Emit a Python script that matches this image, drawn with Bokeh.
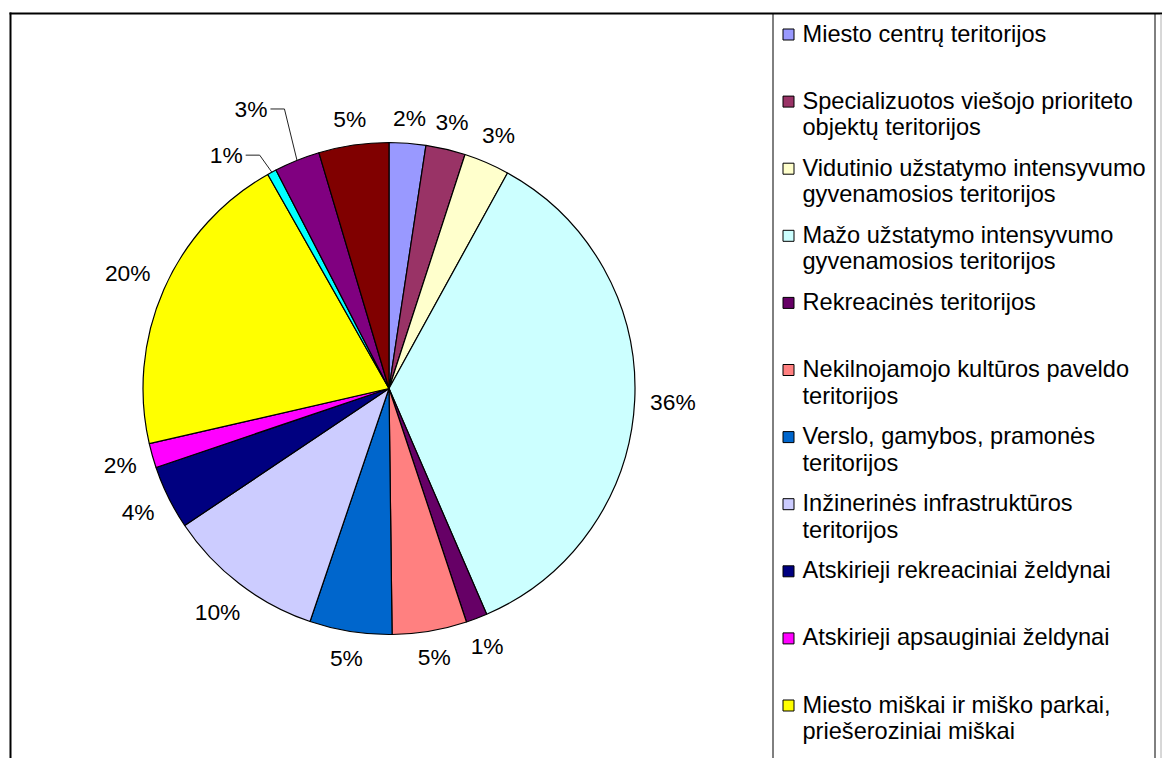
import numpy as np
from bokeh.plotting import figure
from bokeh.models import Range1d, ColumnDataSource
from bokeh.embed import file_html
from bokeh.resources import INLINE
from bokeh.core.properties import value

# ---------------- data ----------------
categories = [
    "Miesto centrų teritorijos",
    "Specializuotos viešojo prioriteto\nobjektų teritorijos",
    "Vidutinio užstatymo intensyvumo\ngyvenamosios teritorijos",
    "Mažo užstatymo intensyvumo\ngyvenamosios teritorijos",
    "Rekreacinės teritorijos",
    "Nekilnojamojo kultūros paveldo\nteritorijos",
    "Verslo, gamybos, pramonės\nteritorijos",
    "Inžinerinės infrastruktūros\nteritorijos",
    "Atskirieji rekreaciniai želdynai",
    "Atskirieji apsauginiai želdynai",
    "Miesto miškai ir miško parkai,\npriešeroziniai miškai",
    "Vandens telkiniai",
    "Kapinių teritorijos",
    "Kitos teritorijos",
]
shares = [2.4, 2.6, 3.0, 35.5, 1.4, 4.9, 5.4, 10.4, 4.2, 1.6, 20.4, 0.6, 3.0, 4.6]
colors = ["#9999FF", "#993366", "#FFFFCC", "#CCFFFF", "#660066", "#FF8080",
          "#0066CC", "#CCCCFF", "#000080", "#FF00FF", "#FFFF00", "#00FFFF",
          "#800080", "#800000"]

# ---------------- layout ----------------
W, H = 1162, 758
FONT = value("Liberation Sans")


def fy(Y):
    # page-pixel y (downwards) -> data y (upwards)
    return H - Y


p = figure(width=W, height=H, x_range=Range1d(0, W), y_range=Range1d(0, H),
           x_axis_type=None, y_axis_type=None, toolbar_location=None,
           output_backend="svg", min_border=0, outline_line_color=None)
p.grid.visible = False
p.background_fill_color = "white"
p.border_fill_color = "white"

# pie
CX, CY, R = 388.5, fy(388), 246
vals = np.array(shares, dtype=float)
frac = vals / vals.sum()
cum = np.cumsum(frac)
th0 = 2 * np.pi * (cum - frac)
th1 = 2 * np.pi * cum
thm = (th0 + th1) / 2

src = ColumnDataSource(dict(start=np.pi / 2 - th1, end=np.pi / 2 - th0, color=colors))
p.wedge(x=CX, y=CY, radius=R, start_angle="start", end_angle="end", fill_color="color",
        line_color="black", line_width=1.2, source=src)

# percentage labels
labels = [f"{v:.0f}%" for v in shares]
FS = 22.8
label_shift = {11: (-31, 10), 12: (-35, -24)}  # dragged labels (with leader lines)
lx, ly = [], []
for i, (t, a) in enumerate(zip(labels, thm)):
    hw = 0.5 * FS * (0.556 * (len(t) - 1) + 0.889)
    hh = 9
    d = 261 + hw * abs(np.sin(a)) + hh * abs(np.cos(a))
    x = CX + d * np.sin(a)
    y = CY + d * np.cos(a)
    if i in label_shift:
        dx, dy = label_shift[i]
        x += dx
        y -= dy
        xs0 = x + hw + 3
        p.line([xs0, xs0 + 14, CX + R * np.sin(a)], [y, y, CY + R * np.cos(a)],
               line_color="#222222", line_width=1)
    lx.append(x)
    ly.append(y)
p.text(x=lx, y=ly, text=labels, text_font=FONT, text_font_size=f"{FS}px",
       text_align="center", text_baseline="middle", text_color="black")

# borders
p.line([9, W], [fy(13), fy(13)], line_color="black", line_width=2)
p.line([10, 10], [fy(12), 0], line_color="black", line_width=2)
p.line([772.5, 772.5], [fy(13), 0], line_color="black", line_width=1)
p.line([1154.5, 1154.5], [fy(13), 0], line_color="black", line_width=1)
p.line([1160.5, 1160.5], [fy(14), 0], line_color="#b0b0b0", line_width=1)

# legend (drawn manually, entries evenly spaced like the original)
LEG_TOP, LEG_STEP, LINE_STEP = 33, 67.1, 26.5
sq_x, sq_y, sq_c = [], [], []
tx, ty, tt = [], [], []
for i, (name, c) in enumerate(zip(categories, colors)):
    y0 = LEG_TOP + LEG_STEP * i
    if y0 > H - 10:
        continue
    sq_x.append(788)
    sq_y.append(fy(y0 + 1))
    sq_c.append(c)
    for j, line in enumerate(name.split("\n")):
        yy = y0 + LINE_STEP * j
        if yy > H - 10:
            continue
        tx.append(802)
        ty.append(fy(yy))
        tt.append(line)
p.rect(x=sq_x, y=sq_y, width=11, height=11, fill_color=sq_c, line_color="black", line_width=1)
p.text(x=tx, y=ty, text=tt, text_font=FONT, text_font_size="23.6px",
       text_align="left", text_baseline="middle", text_color="black")

open("out.html", "w").write(file_html(p, INLINE))
